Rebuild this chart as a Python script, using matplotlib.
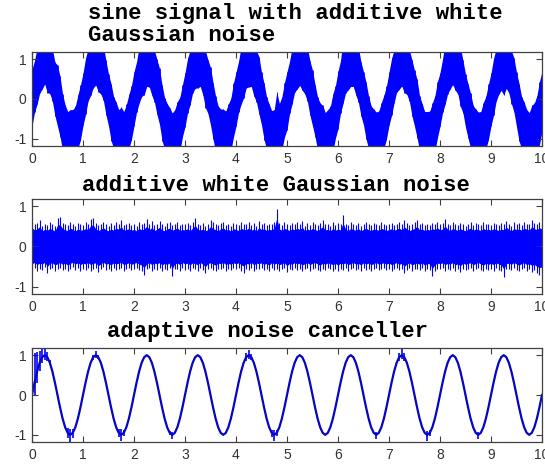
import numpy as np
import matplotlib
matplotlib.use('Agg')
import matplotlib.pyplot as plt

plt.rcParams['axes.unicode_minus'] = False

# sample step of the signals (s)
DT = 0.05

# one period of the clean sine (peaks at 0.25 + k)
SINE_CYCLE = [0.0, 0.31, 0.59, 0.81, 0.95, 1.0, 0.95, 0.81, 0.59, 0.31,
              0.0, -0.31, -0.59, -0.81, -0.95, -1.0, -0.95, -0.81, -0.59, -0.31]
N_CYCLES = 10

# upper / lower envelope of the white noise, one value per sample
NOISE_HI = [
    0.62, 0.55, 0.58, 0.66, 0.52, 0.57, 0.54, 0.60, 0.56, 0.51, 0.71, 0.73, 0.59, 0.55, 0.53, 0.61, 0.57, 0.52, 0.58, 0.55,
    0.54, 0.60, 0.56, 0.69, 0.72, 0.58, 0.53, 0.57, 0.62, 0.55, 0.52, 0.58, 0.54, 0.61, 0.57, 0.66, 0.53, 0.56, 0.59, 0.54,
    0.57, 0.52, 0.60, 0.55, 0.58, 0.68, 0.56, 0.63, 0.53, 0.57, 0.64, 0.55, 0.52, 0.58, 0.61, 0.54, 0.57, 0.62, 0.53, 0.56,
    0.55, 0.59, 0.53, 0.61, 0.70, 0.57, 0.54, 0.58, 0.52, 0.56, 0.66, 0.60, 0.55, 0.53, 0.58, 0.62, 0.54, 0.57, 0.51, 0.59,
    0.56, 0.53, 0.60, 0.57, 0.55, 0.62, 0.54, 0.58, 0.52, 0.63, 0.56, 0.59, 0.53, 0.57, 0.55, 0.61, 0.94, 0.58, 0.54, 0.60,
    0.57, 0.53, 0.59, 0.55, 0.61, 0.56, 0.64, 0.52, 0.58, 0.54, 0.60, 0.56, 0.53, 0.59, 0.66, 0.55, 0.57, 0.52, 0.60, 0.54,
    0.58, 0.55, 0.78, 0.57, 0.53, 0.60, 0.56, 0.54, 0.59, 0.52, 0.57, 0.61, 0.55, 0.53, 0.58, 0.56, 0.54, 0.60, 0.57, 0.53,
    0.56, 0.59, 0.54, 0.57, 0.61, 0.55, 0.65, 0.58, 0.53, 0.56, 0.60, 0.67, 0.55, 0.58, 0.53, 0.57, 0.54, 0.59, 0.56, 0.62,
    0.55, 0.58, 0.68, 0.57, 0.53, 0.60, 0.56, 0.54, 0.59, 0.55, 0.52, 0.57, 0.61, 0.54, 0.58, 0.56, 0.53, 0.60, 0.55, 0.57,
    0.54, 0.59, 0.56, 0.53, 0.58, 0.55, 0.64, 0.57, 0.52, 0.60, 0.56, 0.58, 0.54, 0.61, 0.57, 0.55, 0.66, 0.59, 0.56, 0.62,
    0.58]
NOISE_LO = [
    -0.57, -0.53, -0.60, -0.55, -0.58, -0.52, -0.66, -0.56, -0.54, -0.61, -0.57, -0.53, -0.59, -0.55, -0.62, -0.56, -0.52, -0.58, -0.54, -0.60,
    -0.55, -0.58, -0.53, -0.60, -0.56, -0.54, -0.64, -0.57, -0.52, -0.59, -0.56, -0.61, -0.54, -0.58, -0.55, -0.53, -0.60, -0.57, -0.54, -0.59,
    -0.56, -0.53, -0.58, -0.62, -0.70, -0.57, -0.54, -0.60, -0.55, -0.58, -0.53, -0.61, -0.56, -0.59, -0.54, -0.74, -0.57, -0.55, -0.60, -0.53,
    -0.58, -0.55, -0.61, -0.54, -0.57, -0.60, -0.53, -0.59, -0.67, -0.56, -0.54, -0.58, -0.62, -0.55, -0.57, -0.53, -0.60, -0.56, -0.59, -0.54,
    -0.57, -0.54, -0.60, -0.65, -0.56, -0.58, -0.53, -0.61, -0.55, -0.57, -0.54, -0.59, -0.56, -0.62, -0.53, -0.58, -0.55, -0.60, -0.57, -0.54,
    -0.64, -0.56, -0.59, -0.53, -0.58, -0.55, -0.61, -0.57, -0.54, -0.60, -0.56, -0.53, -0.58, -0.62, -0.55, -0.59, -0.54, -0.57, -0.60, -0.56,
    -0.62, -0.55, -0.58, -0.54, -0.60, -0.57, -0.53, -0.59, -0.56, -0.61, -0.54, -0.58, -0.55, -0.60, -0.57, -0.53, -0.59, -0.56, -0.54, -0.58,
    -0.55, -0.60, -0.57, -0.53, -0.59, -0.56, -0.66, -0.58, -0.54, -0.61, -0.57, -0.55, -0.59, -0.54, -0.62, -0.56, -0.58, -0.73, -0.60, -0.55,
    -0.57, -0.54, -0.60, -0.56, -0.58, -0.53, -0.61, -0.57, -0.64, -0.55, -0.59, -0.56, -0.54, -0.60, -0.57, -0.53, -0.58, -0.62, -0.55, -0.59,
    -0.56, -0.60, -0.54, -0.58, -0.61, -0.75, -0.57, -0.55, -0.59, -0.53, -0.58, -0.62, -0.56, -0.54, -0.60, -0.57, -0.63, -0.59, -0.66, -0.70,
    -0.68]
# share of each envelope that is drawn as the dense core of the band
NOISE_CORE = 0.75
# noise gain on the primary (signal + noise) channel
PRIMARY_GAIN = 1.2

# residual of the adaptive canceller around the recovered sine
FUZZ_T = [0.0, 0.05, 0.1, 0.15, 0.2, 0.25, 0.3, 0.35, 0.7, 0.75, 0.8, 1.2, 1.25, 1.3,
          1.7, 1.75, 1.8, 2.7, 2.75, 4.2, 4.25, 4.3, 4.7, 4.75, 4.8, 6.75, 7.2, 7.25,
          7.3, 7.75, 7.8, 8.75]
FUZZ_HI = [1.05, 0.75, 0.5, 0.3, 0.2, 0.15, 0.12, 0.08, 0.12, 0.15, 0.1, 0.06, 0.1, 0.05,
           0.1, 0.15, 0.08, 0.05, 0.08, 0.1, 0.12, 0.08, 0.08, 0.12, 0.08, 0.08, 0.1, 0.15,
           0.1, 0.1, 0.08, 0.08]
FUZZ_LO = [-0.1, -0.3, -0.3, -0.2, -0.15, -0.12, -0.1, -0.06, -0.12, -0.2, -0.12, -0.06, -0.08, -0.05,
           -0.1, -0.15, -0.08, -0.05, -0.1, -0.1, -0.1, -0.08, -0.1, -0.15, -0.08, -0.1, -0.1, -0.1,
           -0.1, -0.15, -0.08, -0.1]

X_TICKS = list(range(11))
Y_TICKS = [-1, 0, 1]

TITLE1 = ['sine signal with additive white', 'Gaussian noise']
TITLE2 = 'additive white Gaussian noise'
TITLE3 = 'adaptive noise canceller'

BLUE = '#0000ff'
W, H = 545, 465

t = np.arange(len(NOISE_HI)) * DT
sine = np.append(np.tile(SINE_CYCLE, N_CYCLES), SINE_CYCLE[0])
hi = np.array(NOISE_HI)
lo = np.array(NOISE_LO)

fig = plt.figure(figsize=(W / 100, H / 100), dpi=100)


def px_axes(top, bottom):
    # axes box in pixel coordinates of the reference
    return fig.add_axes([32 / W, 1 - bottom / H, 510 / W, (bottom - top) / H])


def style(ax):
    ax.set_xlim(0, 10)
    ax.set_ylim(-1.18, 1.18)
    ax.set_xticks(X_TICKS)
    ax.set_yticks(Y_TICKS)
    ax.tick_params(direction='in', length=4, width=0.8, color='#404040',
                   top=True, right=True, labelsize=10, labelcolor='#333333', pad=4)
    for lab in ax.get_xticklabels() + ax.get_yticklabels():
        lab.set_family('Liberation Sans')
    for sp in ax.spines.values():
        sp.set_color('#404040')
        sp.set_linewidth(0.9)


def title(x, y, s):
    fig.text(x / W, 1 - y / H, s, ha='left', va='baseline',
             family='Liberation Mono', weight='bold', fontsize=16)


# sine + noise
ax1 = px_axes(52, 146)
up1 = sine + PRIMARY_GAIN * hi
dn1 = sine + PRIMARY_GAIN * lo
ax1.fill_between(t, dn1, up1, color=BLUE, lw=0)
ax1.vlines(t, dn1, up1, color=BLUE, lw=0.6)
style(ax1)
title(88, 19, TITLE1[0])
title(88, 41, TITLE1[1])

# noise alone
ax2 = px_axes(199, 294)
ax2.fill_between(t, NOISE_CORE * lo, NOISE_CORE * hi, color=BLUE, lw=0)
ax2.vlines(t, lo, hi, color=BLUE, lw=0.8)
style(ax2)
title(82, 191, TITLE2)

# canceller output
ax3 = px_axes(348, 442)
idx = np.rint(np.array(FUZZ_T) / DT).astype(int)
ax3.vlines(t[idx], sine[idx] + np.array(FUZZ_LO), sine[idx] + np.array(FUZZ_HI),
           color=BLUE, lw=1.2)
ax3.plot(t, sine, color=BLUE, lw=1.6)
ax3.plot(t, sine, color='#101070', lw=0.6)
style(ax3)
title(107, 337, TITLE3)

fig.savefig('out.png', dpi=100)
